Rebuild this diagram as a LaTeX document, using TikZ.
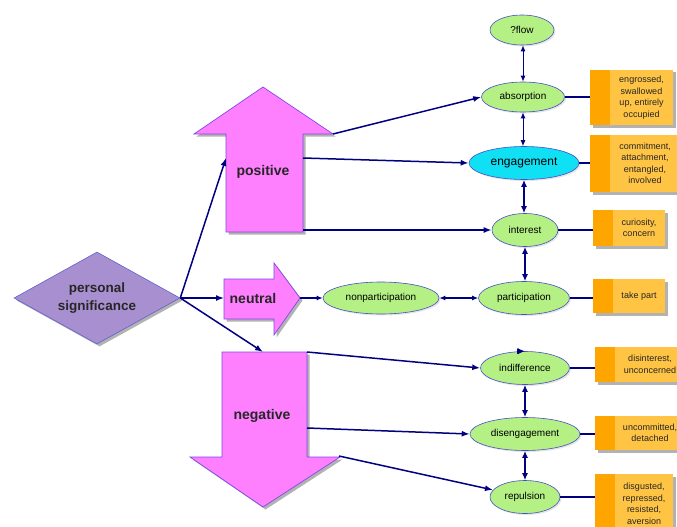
\documentclass[tikz,border=0pt]{standalone}
\usepackage{fontspec}
\setmainfont{Liberation Sans}
\usetikzlibrary{shapes.geometric,shadows,arrows.meta}
\definecolor{navy}{HTML}{000080}
\definecolor{lgreen}{HTML}{B4F084}
\definecolor{ellblue}{HTML}{4850C8}
\definecolor{cyanf}{HTML}{10E0F4}
\definecolor{pinkf}{HTML}{FF80FF}
\definecolor{pinkb}{HTML}{8048E8}
\definecolor{lav}{HTML}{A890D0}
\definecolor{lavb}{HTML}{6060D0}
\definecolor{odark}{HTML}{FFA500}
\definecolor{olight}{HTML}{FFC444}
\begin{document}
\begin{tikzpicture}[x=1pt,y=-1pt,
  conn/.style={draw=navy, line width=1.5pt},
  arr/.style={conn, -{Latex[length=8pt,width=6pt]}},
  darr/.style={conn, {Latex[length=7pt,width=6pt]}-{Latex[length=7pt,width=6pt]}},
  shad/.style={drop shadow={shadow xshift=2.5pt, shadow yshift=-2.5pt, fill=black!30, opacity=1}},
  oval/.style={ellipse, draw=ellblue, line width=0.6pt, fill=lgreen, inner sep=0pt,
    minimum height=33pt, font=\fontsize{10}{12}\selectfont,
    drop shadow={shadow xshift=1.5pt, shadow yshift=-1.5pt, fill=black!20}},
  bigarrow/.style={draw=pinkb, fill=pinkf, line width=0.7pt, shad},
  biglabel/.style={font=\bfseries\fontsize{14}{18}\selectfont, text=black!85},
  note/.style={rectangle, fill=olight, inner sep=0pt, shad,
    path picture={\fill[odark] (path picture bounding box.north west) rectangle ([xshift=20pt]path picture bounding box.south west);}},
  notetext/.style={align=center, font=\fontsize{9}{11.5}\selectfont, text=black!85}
]
\useasboundingbox (0,0) rectangle (677,527);
\clip (0,0) rectangle (677,527);

% big arrows
\draw[bigarrow] (263,87) -- (333,134) -- (303,134) -- (303,232) -- (226,232) -- (226,134) -- (194,134) -- cycle;
\draw[bigarrow] (224,279) -- (274,279) -- (274,263) -- (300,298) -- (274,335) -- (274,319) -- (224,319) -- cycle;
\draw[bigarrow] (222,352) -- (307,352) -- (307,457) -- (340,457) -- (263,507) -- (190,457) -- (222,457) -- cycle;
\node[biglabel] (postxt) at (263,172) {positive};
\node[biglabel] (neutxt) at (253,298) {neutral};
\node[biglabel] (negtxt) at (262,416) {negative};
\coordinate (posIn) at (226,158);
\coordinate (posA) at (333,134);
\coordinate (posB) at (303,158);
\coordinate (posC) at (303,230);
\coordinate (neuIn) at (224,298);
\coordinate (neuOut) at (300,298);
\coordinate (negIn) at (263,352);
\coordinate (negA) at (307,352);
\coordinate (negB) at (307,428);
\coordinate (negC) at (339,456);

% diamond
\node[diamond, draw=lavb, fill=lav, line width=0.6pt, inner sep=0pt, aspect=1.8,
  minimum width=166pt, minimum height=92pt, align=center,
  font=\bfseries\fontsize{13.5}{18}\selectfont, text=black!85, shad] (ps) at (97,298) {personal\\significance};

% ellipses
\node[oval, minimum width=64pt, minimum height=30pt] (flow) at (522,30) {?flow};
\node[oval, minimum width=83pt, minimum height=30pt] (abs) at (523,97) {absorption};
\node[oval, fill=cyanf, minimum width=110pt, font=\fontsize{12}{14}\selectfont] (eng) at (524,163) {engagement};
\node[oval, minimum width=66pt] (int) at (525,230) {interest};
\node[oval, minimum width=91pt] (part) at (524,298) {participation};
\node[oval, minimum width=89pt] (ind) at (525,368) {indifference};
\node[oval, minimum width=110pt] (dis) at (525,434) {disengagement};
\node[oval, minimum width=70pt] (rep) at (525,497) {repulsion};
\node[oval, minimum width=116pt, minimum height=32pt] (np) at (381,298) {nonparticipation};

% notes
\node[note, minimum width=83pt, minimum height=55pt,
  label={[notetext, xshift=10pt]center:{engrossed,\\swallowed\\up, entirely\\occupied}}] (b1) at (631.5,97.5) {};
\node[note, minimum width=90pt, minimum height=57pt,
  label={[notetext, xshift=10pt]center:{commitment,\\attachment,\\entangled,\\involved}}] (b2) at (635,163.5) {};
\node[note, minimum width=72pt, minimum height=36pt,
  label={[notetext, xshift=10pt]center:{curiosity,\\concern}}] (b3) at (629,228) {};
\node[note, minimum width=72pt, minimum height=34pt,
  label={[notetext, xshift=10pt]center:{take part}}] (b4) at (629,296) {};
\node[note, minimum width=90pt, minimum height=35pt,
  label={[notetext, xshift=10pt]center:{disinterest,\\unconcerned}}] (b5) at (640,364.5) {};
\node[note, minimum width=90pt, minimum height=34pt,
  label={[notetext, xshift=10pt]center:{uncommitted,\\detached}}] (b6) at (640,433) {};
\node[note, minimum width=78pt, minimum height=60pt,
  label={[notetext, xshift=10pt]center:{disgusted,\\repressed,\\resisted,\\aversion}}] (b7) at (634,504) {};

% connectors from diamond
\draw[arr] (ps.east) -- (posIn);
\draw[arr] (ps.east) -- (neuIn);
\draw[arr] (ps.east) -- (negIn);

% from big arrows
\draw[arr] (posA) -- (abs.west);
\draw[arr] (posB) -- (eng.west);
\draw[arr] (posC) -- (int.west);
\draw[arr, -{Latex[length=6pt,width=5pt]}] (neuOut) -- (np.west);
\draw[darr, {Latex[length=6pt,width=5pt]}-{Latex[length=6pt,width=5pt]}] (np.east) -- (part.west);
\draw[arr] (negA) -- (ind.west);
\draw[arr] (negB) -- (dis.west);
\draw[arr] (negC) -- (rep);

% vertical chain
\draw[darr, line width=1pt, {Latex[length=6pt,width=5pt]}-{Latex[length=6pt,width=5pt]}] (abs.north |- flow.south) -- (abs.north);
\draw[darr, line width=1pt, {Latex[length=6pt,width=5pt]}-{Latex[length=6pt,width=5pt]}] (abs.south) -- (abs.south |- eng.north);
\draw[darr] (eng.south) -- (eng.south |- int.north);
\draw[darr] (int.south) -- (int.south |- part.north);
\draw[darr] (part.south |- ind.north) -- (ind.north) ;
\draw[darr] (ind.south) -- (dis.north);
\draw[darr] (dis.south) -- (rep.north);

% to notes
\draw[conn] (abs.east) -- (b1.west |- abs.east);
\draw[conn] (eng.east) -- (b2.west |- eng.east);
\draw[conn] (int.east) -- (b3.west |- int.east);
\draw[conn] (part.east) -- (b4.west |- part.east);
\draw[conn] (ind.east) -- (b5.west |- ind.east);
\draw[conn] (dis.east) -- (b6.west |- dis.east);
\draw[conn] (rep.east) -- (b7.west |- rep.east);
\end{tikzpicture}
\end{document}
